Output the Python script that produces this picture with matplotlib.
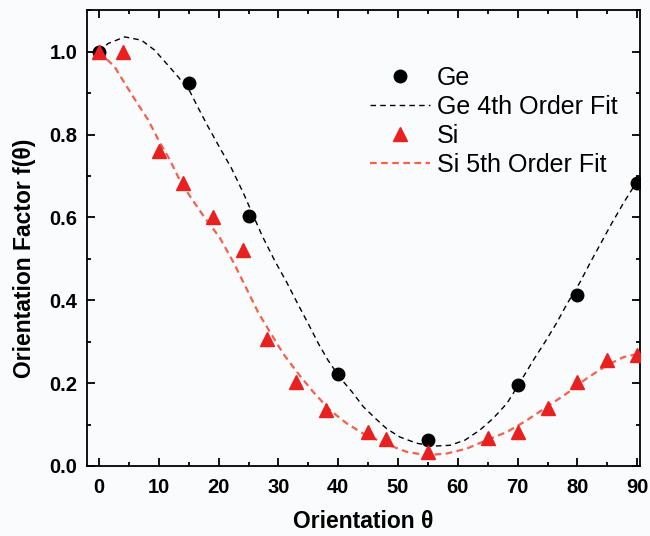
import numpy as np
import matplotlib
matplotlib.use("Agg")
import matplotlib.pyplot as plt
from matplotlib.ticker import MultipleLocator, FormatStrFormatter

plt.rcParams['font.family'] = ['Liberation Sans', 'DejaVu Sans']

# measured points
ge_x = [0, 15, 25, 40, 55, 70, 80, 90]
ge_y = [1.0, 0.925, 0.603, 0.223, 0.062, 0.195, 0.413, 0.684]

si_x = [0, 4, 10, 14, 19, 24, 28, 33, 38, 45, 48, 55, 65, 70, 75, 80, 85, 90]
si_y = [1.0, 1.0, 0.761, 0.684, 0.601, 0.521, 0.307, 0.203, 0.136, 0.082, 0.066,
        0.034, 0.068, 0.082, 0.139, 0.203, 0.257, 0.267]

# fit curves
ge_fit_x = [0, 1.5, 4.3, 7.1, 9.3, 11.5, 13.2, 15.2, 16.6, 18.2, 20.2, 22.1, 24.1,
            27.3, 29.4, 31.4, 33.1, 35.0, 36.7, 38.3, 40.3, 42.3, 44.2, 46.2, 48.1,
            50.3, 53.1, 55.9, 58.7, 61.2, 63.7, 65.9, 68.2, 70.1, 72.6, 74.6, 76.5,
            78.2, 80.4, 82.1, 83.8, 85.7, 87.7, 90]
ge_fit_y = [1.0, 1.02, 1.036, 1.028, 1.004, 0.968, 0.94, 0.904, 0.864, 0.82, 0.768,
            0.72, 0.66, 0.555, 0.495, 0.443, 0.395, 0.343, 0.295, 0.255, 0.213,
            0.179, 0.143, 0.115, 0.09, 0.07, 0.055, 0.048, 0.05, 0.0625, 0.087,
            0.115, 0.151, 0.195, 0.255, 0.30, 0.345, 0.39, 0.443, 0.49, 0.535,
            0.585, 0.635, 0.688]

si_fit_x = [0, 2.6, 4.3, 6.2, 8.2, 9.9, 11.8, 13.5, 15.4, 17.4, 20.2, 22.5, 24.7,
            26.6, 28.6, 30.8, 33.3, 35.8, 38.6, 41.4, 44.2, 47.3, 49.8, 51.5, 54.8,
            58.1, 61.5, 64.8, 68.2, 71.5, 74.9, 78.2, 81.5, 84.9, 87.7, 90]
si_fit_y = [1.0, 0.964, 0.924, 0.88, 0.836, 0.788, 0.74, 0.69, 0.647, 0.605, 0.551,
            0.491, 0.427, 0.371, 0.323, 0.271, 0.223, 0.179, 0.135, 0.103, 0.078,
            0.058, 0.043, 0.034, 0.026, 0.03, 0.042, 0.0625, 0.082, 0.11, 0.143,
            0.175, 0.211, 0.243, 0.263, 0.27]

bg = '#fafbfd'
fig = plt.figure(figsize=(6.5, 5.36), dpi=100)
fig.patch.set_facecolor(bg)
ax = fig.add_axes([0.134, 0.1306, 0.851, 0.85])
ax.set_facecolor(bg)

ax.plot(ge_x, ge_y, 'o', color='black', markersize=9, label='Ge', zorder=3)
ax.plot(ge_fit_x, ge_fit_y, color='black', linewidth=1.0, dashes=(4, 3),
        label='Ge 4th Order Fit')
ax.plot(si_x, si_y, '^', color='#e82020', markersize=10, label='Si', zorder=3)
ax.plot(si_fit_x, si_fit_y, color='#f5604a', linewidth=1.6, dashes=(3, 2),
        label='Si 5th Order Fit')

ax.set_xlim(-2, 90.5)
ax.set_ylim(0, 1.1)
ax.xaxis.set_major_locator(MultipleLocator(10))
ax.xaxis.set_minor_locator(MultipleLocator(5))
ax.yaxis.set_major_locator(MultipleLocator(0.2))
ax.yaxis.set_minor_locator(MultipleLocator(0.1))
ax.yaxis.set_major_formatter(FormatStrFormatter('%.1f'))
ax.tick_params(which='both', direction='in', top=True, right=True, width=1.3)
ax.tick_params(which='major', length=6, labelsize=14.5)
ax.tick_params(which='minor', length=3.2)
ax.tick_params(axis='x', which='major', pad=9)
ax.tick_params(axis='y', which='major', pad=7)
for lab in ax.get_xticklabels() + ax.get_yticklabels():
    lab.set_fontweight('bold')
for s in ax.spines.values():
    s.set_linewidth(1.3)

ax.set_xlabel('Orientation θ', fontsize=16.5, fontweight='bold', labelpad=9)
ax.set_ylabel('Orientation Factor f(θ)', fontsize=16.5, fontweight='bold')
ax.yaxis.set_label_coords(-0.093, 0.456)

ax.legend(loc='upper right', frameon=False, fontsize=18, handlelength=2.4,
          handletextpad=0.3, labelspacing=0.2, borderaxespad=0.5,
          bbox_to_anchor=(1.0, 0.928))

fig.savefig('out.png', dpi=100, facecolor=fig.get_facecolor())
